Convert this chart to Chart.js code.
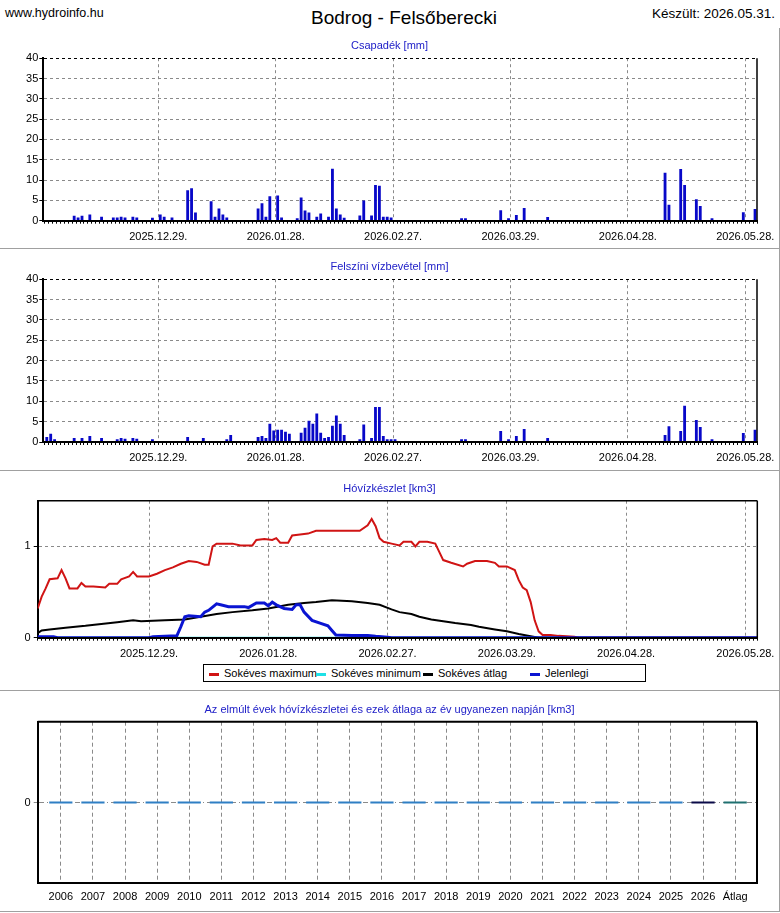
<!DOCTYPE html>
<html lang="hu">
<head>
<meta charset="utf-8">
<title>Bodrog - Felsőberecki</title>
<script src="https://cdn.jsdelivr.net/npm/chart.js@4.4.1/dist/chart.umd.min.js"></script>
<style>
    body { margin: 0; background: #fff; font-family: "Liberation Sans", Arial, sans-serif; color: #000; }
    #page { position: relative; width: 780px; height: 913px; overflow: hidden; }
    .head { position: absolute; top: 6px; font-size: 12.5px; line-height: 15px; white-space: nowrap; }
    #site { left: 5px; }
    #made { right: 5px; font-size: 13.5px; }
    #title { position: absolute; left: 204px; width: 400px; top: 7px; text-align: center; font-size: 19px; line-height: 21px; }
    .panel { position: absolute; left: 0; width: 779px; border-right: 1px solid #a0a0a0; border-bottom: 1px solid #a0a0a0; }
    .panel canvas { display: block; }
    #legend { position: absolute; left: 203px; top: 193px; width: 436px; height: 16px; padding-left: 5px;
              border: 1px solid #000; font-size: 11px; line-height: 16px; white-space: nowrap; background: #fff; }
    #legend .item { display: inline-block; width: 107px; }
    #legend .item i { display: inline-block; width: 10px; height: 3px; vertical-align: middle; margin-right: 5px; }
</style>
</head>
<body>
<div id="page">
    <div class="head" id="site">www.hydroinfo.hu</div>
    <div id="title">Bodrog - Felsőberecki</div>
    <div class="head" id="made">Készült: 2026.05.31.</div>

    <div class="panel" style="top:28px;height:220px"><canvas id="rainChart" width="779" height="220"></canvas></div>
    <div class="panel" style="top:249px;height:221px"><canvas id="runoffChart" width="779" height="221"></canvas></div>
    <div class="panel" style="top:471px;height:219px"><canvas id="snowChart" width="779" height="219"></canvas><div id="legend"></div></div>
    <div class="panel" style="top:691px;height:220px"><canvas id="yearChart" width="779" height="220"></canvas></div>
</div>

<script>
// day 0 = 2025.11.30., every series below is indexed by that day count
const tickDays = [29, 59, 89, 119, 149, 179];
const tickLabels = ["2025.12.29.", "2026.01.28.", "2026.02.27.", "2026.03.29.", "2026.04.28.", "2026.05.28."];

// Csapadék [mm] (only the days with rain)
const rainDays = [7, 8, 9, 11, 14, 17, 18, 19, 20, 22, 23, 27, 29, 30, 32, 36, 37, 38, 42, 43, 44, 45, 46, 54, 55,
    56, 57, 59, 60, 64, 65, 66, 67, 69, 70, 72, 73, 74, 75, 76, 80, 81, 83, 84, 85, 86, 87, 88, 92, 106,
    107, 110, 116, 118, 120, 122, 128, 158, 159, 162, 163, 166, 167, 170, 178, 181];
const rainMm = [1.2, 0.8, 1.2, 1.5, 1.0, 0.8, 0.8, 1.0, 0.8, 1.0, 0.8, 0.7, 1.5, 1.0, 0.8, 7.5, 8.0, 2.0, 4.8, 1.0, 3.0, 1.5, 0.8, 3.0, 4.3,
    1.0, 6.0, 6.2, 0.8, 0.6, 5.7, 2.5, 2.0, 1.0, 1.8, 1.0, 12.8, 3.0, 1.5, 0.7, 1.3, 5.0, 1.3, 8.8, 8.6, 1.0, 1.0, 0.8, 0.2, 0.6,
    0.6, 0.2, 2.6, 0.6, 1.4, 3.1, 0.9, 11.8, 3.9, 12.7, 8.8, 5.3, 3.6, 0.6, 2.1, 2.9];

// Felszíni vízbevétel [mm]
const runoffDays = [0, 1, 2, 7, 9, 11, 14, 18, 19, 20, 22, 23, 27, 36, 40, 46, 47, 54, 55, 56, 57, 58, 59, 60, 61,
    62, 65, 66, 67, 68, 69, 70, 71, 72, 73, 74, 75, 76, 80, 81, 83, 84, 85, 86, 87, 88, 89, 106, 107, 116,
    118, 120, 122, 128, 158, 159, 162, 163, 166, 167, 170, 178, 181];
const runoffMm = [1.2, 2.0, 0.7, 1.0, 1.0, 1.5, 1.0, 0.7, 1.0, 0.8, 1.0, 0.8, 0.7, 1.2, 1.0, 0.7, 1.7, 1.2, 1.5, 1.0, 4.5, 2.8, 3.0, 3.0, 2.5,
    2.0, 2.3, 3.5, 5.2, 4.5, 7.0, 2.3, 1.0, 1.2, 4.0, 6.5, 4.5, 1.7, 0.7, 4.3, 1.0, 8.6, 8.6, 1.5, 0.7, 0.7, 0.7, 0.7, 0.7, 2.7,
    0.7, 1.5, 3.2, 1.0, 1.7, 3.9, 2.7, 8.9, 5.4, 3.7, 0.7, 2.2, 3.0];

// Hóvízkészlet [km3]
const maxDays = [1, 2, 3, 4, 6, 7, 8, 9, 11, 12, 13, 15, 18, 19, 21, 22, 24, 25, 26, 29, 31, 33, 35, 37, 39, 41, 43, 44, 45, 46,
    50, 52, 55, 56, 58, 60, 61, 62, 64, 65, 67, 69, 71, 82, 84, 85, 86, 87, 88, 90, 92, 93, 95, 96, 97, 99, 101, 102, 103, 105,
    108, 109, 111, 114, 116, 117, 119, 121, 122, 123, 124, 125, 126, 127, 128, 130, 132, 136, 137, 182];
const maxKm3 = [0.32, 0.45, 0.54, 0.64, 0.65, 0.74, 0.65, 0.54, 0.54, 0.60, 0.56, 0.56, 0.55, 0.59, 0.59, 0.64, 0.67, 0.72, 0.67, 0.67,
    0.70, 0.74, 0.77, 0.81, 0.84, 0.83, 0.80, 0.80, 1.00, 1.03, 1.03, 1.01, 1.01, 1.07, 1.08, 1.07, 1.09, 1.04, 1.04, 1.12,
    1.13, 1.14, 1.17, 1.17, 1.23, 1.30, 1.22, 1.09, 1.05, 1.03, 1.01, 1.05, 1.05, 1.00, 1.05, 1.05, 1.03, 0.94, 0.85, 0.82,
    0.78, 0.81, 0.84, 0.84, 0.82, 0.78, 0.78, 0.74, 0.63, 0.55, 0.52, 0.39, 0.19, 0.07, 0.03, 0.03, 0.02, 0.01, 0, 0];
const minDays = [1, 182];
const minKm3 = [0, 0];
const avgDays = [1, 2, 4, 8, 13, 17, 21, 25, 27, 33, 38, 42, 46, 50, 55, 59, 64, 68, 71, 75, 80, 84, 87, 90, 92, 95, 97, 100,
    103, 106, 110, 112, 116, 119, 122, 125, 127, 182];
const avgKm3 = [0.05, 0.08, 0.09, 0.11, 0.13, 0.15, 0.17, 0.19, 0.18, 0.19, 0.20, 0.23, 0.26, 0.28, 0.30, 0.32, 0.36, 0.38, 0.39,
    0.41, 0.40, 0.38, 0.36, 0.31, 0.28, 0.26, 0.23, 0.20, 0.18, 0.16, 0.14, 0.12, 0.09, 0.07, 0.04, 0.015, 0, 0];
const nowDays = [1, 5, 6, 29, 30, 36, 37, 38, 39, 42, 43, 44, 46, 47, 49, 53, 54, 56, 58, 59, 60, 61, 63, 65, 66, 67, 68, 70, 72,
    74, 75, 76, 80, 84, 86, 89, 90, 182];
const nowKm3 = [0.01, 0.01, 0, 0, 0.01, 0.02, 0.12, 0.23, 0.24, 0.23, 0.28, 0.30, 0.37, 0.36, 0.34, 0.34, 0.33, 0.38, 0.38, 0.35,
    0.39, 0.36, 0.32, 0.31, 0.36, 0.36, 0.28, 0.19, 0.16, 0.13, 0.08, 0.03, 0.025, 0.025, 0.015, 0.005, 0, 0];

// Az elmúlt évek hóvízkészletei
const years = ["2006", "2007", "2008", "2009", "2010", "2011", "2012", "2013", "2014", "2015", "2016",
    "2017", "2018", "2019", "2020", "2021", "2022", "2023", "2024", "2025", "2026", "Átlag"];
const yearKm3 = [0, 0, 0, 0, 0, 0, 0, 0, 0, 0, 0, 0, 0, 0, 0, 0, 0, 0, 0, 0, 0, 0];

Chart.defaults.font.family = '"Liberation Sans", Arial, sans-serif';
Chart.defaults.font.size = 11;
Chart.defaults.color = "#000";

const NONE = "rgba(0,0,0,0)";
const GRID = "#8a8a8a";

// black frame lines on the top / right of the plot area
const framePlugin = {
    id: "frame",
    afterDraw(chart, args, opts) {
        const ctx = chart.ctx;
        const a = chart.chartArea;
        ctx.save();
        ctx.strokeStyle = "#000";
        if (opts.top) {
            ctx.lineWidth = opts.top;
            ctx.beginPath(); ctx.moveTo(a.left, a.top); ctx.lineTo(a.right, a.top); ctx.stroke();
        }
        if (opts.right) {
            ctx.lineWidth = opts.right;
            ctx.beginPath(); ctx.moveTo(a.right, a.top); ctx.lineTo(a.right, a.bottom); ctx.stroke();
        }
        ctx.restore();
    }
};

function toBars(days, vals) {
    // a daily bar sits in the middle of its day
    return days.map((d, i) => ({ x: d + 0.5, y: vals[i] }));
}

function toPoints(days, vals) {
    return days.map((d, i) => ({ x: d, y: vals[i] }));
}

function panelTitle(text, top) {
    return { display: true, text: text, color: "#2020c8", font: { size: 11, weight: "normal" }, padding: { top: top, bottom: 5.5 } };
}

// empty axis on the right, only keeps the plot clear of the panel edge
function spacerAxis(width) {
    return {
        position: "right", display: true,
        afterFit: s => { s.width = width; },
        ticks: { display: false }, grid: { display: false }, border: { display: false }
    };
}

function dayAxis(min, height) {
    return {
        type: "linear", min: min, max: 182, offset: false,
        afterFit: s => { s.height = height; },
        afterBuildTicks: s => {
            const t = [];
            for (let d = Math.ceil(s.min); d <= s.max; d++) t.push({ value: d });
            s.ticks = t;
        },
        ticks: {
            autoSkip: false, maxRotation: 0, minRotation: 0, padding: 6.5,
            callback: v => { const i = tickDays.indexOf(v); return i >= 0 ? tickLabels[i] : ""; }
        },
        grid: { offset: false, color: c => tickDays.includes(c.tick.value) ? GRID : NONE, tickColor: "#000", tickLength: 3 },
        border: { color: "#000", width: 2, dash: [3, 3], z: 1 }
    };
}

function mmAxis() {
    return {
        min: 0, max: 40,
        afterFit: s => { s.width = 43.3; },
        ticks: { stepSize: 2.5, padding: 1, callback: v => v % 5 === 0 ? v : "" },
        grid: {
            color: c => c.tick.value === 40 ? "#000" : (c.tick.value % 5 === 0 ? GRID : NONE),
            tickColor: "#000", tickLength: 4
        },
        border: { color: "#000", width: 2, dash: [3, 3] }
    };
}

function barChart(id, title, days, vals, xHeight) {
    return new Chart(document.getElementById(id), {
        type: "bar",
        data: {
            datasets: [{
                label: title,
                data: toBars(days, vals),
                backgroundColor: "#0808c8",
                categoryPercentage: 0.85,
                barPercentage: 0.85
            }]
        },
        options: {
            responsive: false, animation: false, events: [],
            plugins: { legend: { display: false }, tooltip: { enabled: false }, title: panelTitle(title, 11.5), frame: { right: 1.5 } },
            scales: { x: dayAxis(-0.39, xHeight), y: mmAxis(), pad: spacerAxis(22) }
        },
        plugins: [framePlugin]
    });
}

barChart("rainChart", "Csapadék [mm]", rainDays, rainMm, 27.3);
barChart("runoffChart", "Felszíni vízbevétel [mm]", runoffDays, runoffMm, 28);

const snowChart = new Chart(document.getElementById("snowChart"), {
    type: "line",
    data: {
        datasets: [
            { label: "Sokéves maximum", data: toPoints(maxDays, maxKm3), borderColor: "#d01414", borderWidth: 2, order: 1 },
            { label: "Sokéves minimum", data: toPoints(minDays, minKm3), borderColor: "#1ee0e6", borderWidth: 2, order: 2 },
            { label: "Sokéves átlag", data: toPoints(avgDays, avgKm3), borderColor: "#000000", borderWidth: 2, order: 3 },
            { label: "Jelenlegi", data: toPoints(nowDays, nowKm3), borderColor: "#0a14d2", borderWidth: 3, order: 0 }
        ]
    },
    options: {
        responsive: false, animation: false, events: [],
        elements: { point: { radius: 0 }, line: { tension: 0 } },
        plugins: { legend: { display: false }, tooltip: { enabled: false }, title: panelTitle("Hóvízkészlet [km3]", 11), frame: { top: 1.5, right: 1.5 } },
        scales: {
            x: dayAxis(1, 52.3),
            y: {
                min: 0, max: 1.5,
                afterFit: s => { s.width = 37.7; },
                ticks: { stepSize: 1, padding: 3, callback: v => (v === 0 || v === 1) ? v : "" },
                grid: {
                    color: c => c.tick.value === 1 ? GRID : NONE,
                    tickColor: c => c.tick.value === 1.5 ? NONE : "#000", tickLength: 4
                },
                border: { color: "#000", width: 2, dash: [3, 3] }
            },
            pad: spacerAxis(21.7)
        }
    },
    plugins: [framePlugin]
});

function buildLegend(chart, box) {
    box.innerHTML = "";
    chart.data.datasets.forEach(ds => {
        const item = document.createElement("span");
        item.className = "item";
        const mark = document.createElement("i");
        mark.style.background = ds.borderColor;
        item.appendChild(mark);
        item.appendChild(document.createTextNode(ds.label));
        box.appendChild(item);
    });
}
buildLegend(snowChart, document.getElementById("legend"));

new Chart(document.getElementById("yearChart"), {
    type: "bar",
    data: {
        datasets: [{
            label: "Hóvízkészlet",
            data: yearKm3.map((v, i) => ({ x: i, y: v })),
            backgroundColor: years.map(y => y === "Átlag" ? "#1f7070" : (y === "2026" ? "#0a0a48" : "#2f7fc4")),
            minBarLength: 2,
            categoryPercentage: 0.85,
            barPercentage: 0.85
        }]
    },
    options: {
        responsive: false, animation: false, events: [],
        plugins: {
            legend: { display: false }, tooltip: { enabled: false },
            title: panelTitle("Az elmúlt évek hóvízkészletei és ezek átlaga az év ugyanezen napján [km3]", 12),
            frame: { top: 2, right: 2 }
        },
        scales: {
            x: {
                type: "linear", min: -0.72, max: 21.68, offset: false,
                afterFit: s => { s.height = 27.7; },
                afterBuildTicks: s => { s.ticks = years.map((y, i) => ({ value: i })); },
                ticks: { autoSkip: false, maxRotation: 0, minRotation: 0, padding: 7.5,
                    callback: v => years[v] },
                grid: { offset: false, drawTicks: false, color: GRID },
                border: { color: "#000", width: 2, dash: [4, 3] }
            },
            y: {
                min: -1, max: 1,
                afterFit: s => { s.width = 37.7; },
                afterBuildTicks: s => { s.ticks = [{ value: 0 }]; },
                ticks: { padding: 3, callback: () => "0" },
                grid: { color: GRID, tickLength: 4 },
                border: { color: "#000", width: 2, dash: [5, 3, 1, 3] }
            },
            pad: spacerAxis(22)
        }
    },
    plugins: [framePlugin]
});
</script>
</body>
</html>
